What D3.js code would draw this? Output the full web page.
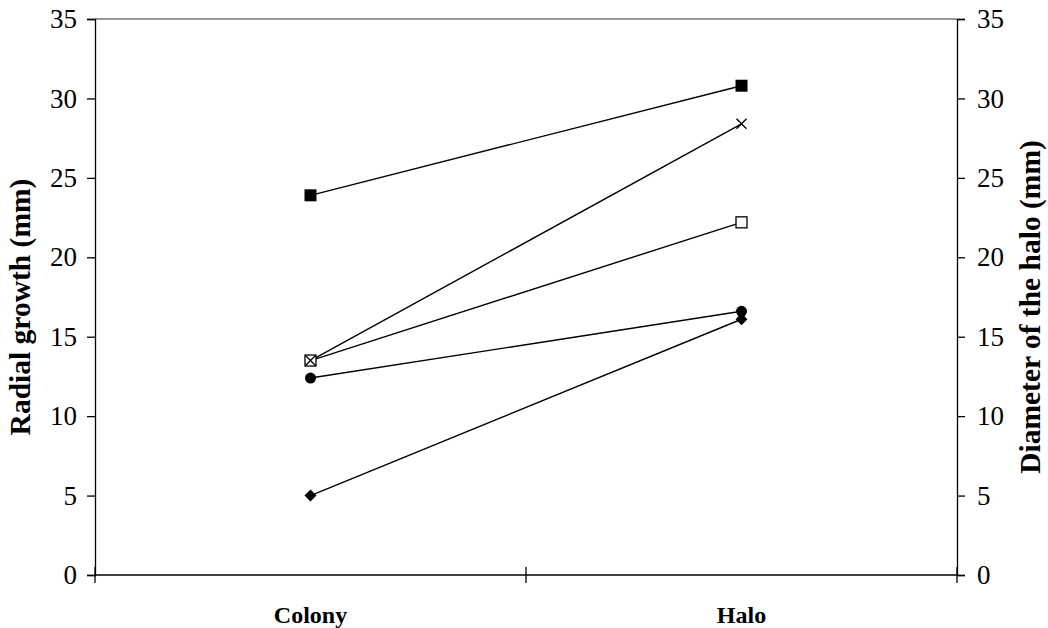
<!DOCTYPE html>
<html>
<head>
<meta charset="utf-8">
<script src="https://cdn.jsdelivr.net/npm/d3@7"></script>
<style>
  html, body { margin: 0; padding: 0; background: #fff; }
  svg text { font-family: "Liberation Serif", "Times New Roman", serif; fill: #000; }
</style>
</head>
<body>
<svg id="chart" width="1048" height="628"></svg>
<script>
// Categories on the x axis
const categories = ["Colony", "Halo"];
// One series per treatment: [colony radial growth, halo diameter]
const seriesFilledSquare = [23.9, 30.8];
const seriesCross        = [13.5, 28.4];
const seriesOpenSquare   = [13.5, 22.2];
const seriesCircle       = [12.4, 16.6];
const seriesDiamond      = [5.0, 16.1];
const yTicks = [0, 5, 10, 15, 20, 25, 30, 35];

const series = [
  { values: seriesFilledSquare, marker: "filledSquare" },
  { values: seriesCross,        marker: "cross" },
  { values: seriesOpenSquare,   marker: "openSquare" },
  { values: seriesCircle,       marker: "circle" },
  { values: seriesDiamond,      marker: "diamond" }
];

const svg = d3.select("#chart");
const plotLeft = 95, plotRight = 957, plotTop = 19, plotBottom = 575;

const x = d3.scaleBand().domain(categories).range([plotLeft, plotRight]);
const y = d3.scaleLinear().domain([0, 35]).range([plotBottom, plotTop]);

// top border
svg.append("line")
  .attr("x1", plotLeft).attr("x2", plotRight).attr("y1", plotTop).attr("y2", plotTop)
  .attr("stroke", "#777").attr("stroke-width", 1.3);

// left axis
const gl = svg.append("g").attr("transform", `translate(${plotLeft},0)`)
  .call(d3.axisLeft(y).tickValues(yTicks).tickSize(8).tickPadding(10));
// right axis
const gr = svg.append("g").attr("transform", `translate(${plotRight},0)`)
  .call(d3.axisRight(y).tickValues(yTicks).tickSize(8).tickPadding(12));
[gl, gr].forEach(g => {
  g.select(".domain").attr("stroke", "#000").attr("stroke-width", 1.3);
  g.selectAll(".tick line").attr("stroke", "#000").attr("stroke-width", 1.3);
  g.selectAll(".tick text").attr("font-size", 27);
});

// bottom axis: ticks at category boundaries
const boundaries = [plotLeft, (plotLeft + plotRight) / 2, plotRight];
svg.append("line")
  .attr("x1", plotLeft).attr("x2", plotRight).attr("y1", plotBottom).attr("y2", plotBottom)
  .attr("stroke", "#000").attr("stroke-width", 1.3);
svg.selectAll(".xtick").data(boundaries).enter().append("line")
  .attr("x1", d => d).attr("x2", d => d)
  .attr("y1", plotBottom - 8).attr("y2", plotBottom + 8)
  .attr("stroke", "#000").attr("stroke-width", 1.3);
svg.selectAll(".xlabel").data(categories).enter().append("text")
  .attr("x", d => x(d) + x.bandwidth() / 2)
  .attr("y", 623)
  .attr("text-anchor", "middle")
  .attr("font-size", 24).attr("font-weight", "bold")
  .text(d => d);

// axis titles
const titleY = 307;
svg.append("text")
  .attr("transform", `translate(30,${titleY}) rotate(-90)`)
  .attr("text-anchor", "middle")
  .attr("font-size", 29.5).attr("font-weight", "bold")
  .text("Radial growth (mm)");
svg.append("text")
  .attr("transform", `translate(1040,${titleY}) rotate(-90)`)
  .attr("text-anchor", "middle")
  .attr("font-size", 29.5).attr("font-weight", "bold")
  .text("Diameter of the halo (mm)");

const cx = c => x(c) + x.bandwidth() / 2;
const line = d3.line().x((d, i) => cx(categories[i])).y(d => y(d));

svg.selectAll(".series").data(series).enter().append("path")
  .attr("d", d => line(d.values))
  .attr("fill", "none").attr("stroke", "#000").attr("stroke-width", 1.4);

function drawMarker(g, type, px, py) {
  if (type === "filledSquare") {
    g.append("rect").attr("x", px - 6).attr("y", py - 6).attr("width", 12).attr("height", 12).attr("fill", "#000");
  } else if (type === "openSquare") {
    g.append("rect").attr("x", px - 5.5).attr("y", py - 5.5).attr("width", 11).attr("height", 11)
      .attr("fill", "#fff").attr("stroke", "#000").attr("stroke-width", 1.3);
  } else if (type === "circle") {
    g.append("circle").attr("cx", px).attr("cy", py).attr("r", 5.5).attr("fill", "#000");
  } else if (type === "diamond") {
    g.append("path").attr("d", `M${px},${py - 6}L${px + 6},${py}L${px},${py + 6}L${px - 6},${py}Z`).attr("fill", "#000");
  } else if (type === "cross") {
    g.append("path").attr("d", `M${px - 5},${py - 5}L${px + 5},${py + 5}M${px - 5},${py + 5}L${px + 5},${py - 5}`)
      .attr("stroke", "#000").attr("stroke-width", 1.4).attr("fill", "none");
  }
}

// draw in reverse order so upper series' markers sit on top
series.slice().reverse().forEach(s => {
  const g = svg.append("g");
  s.values.forEach((v, i) => drawMarker(g, s.marker, cx(categories[i]), y(v)));
});
</script>
</body>
</html>
